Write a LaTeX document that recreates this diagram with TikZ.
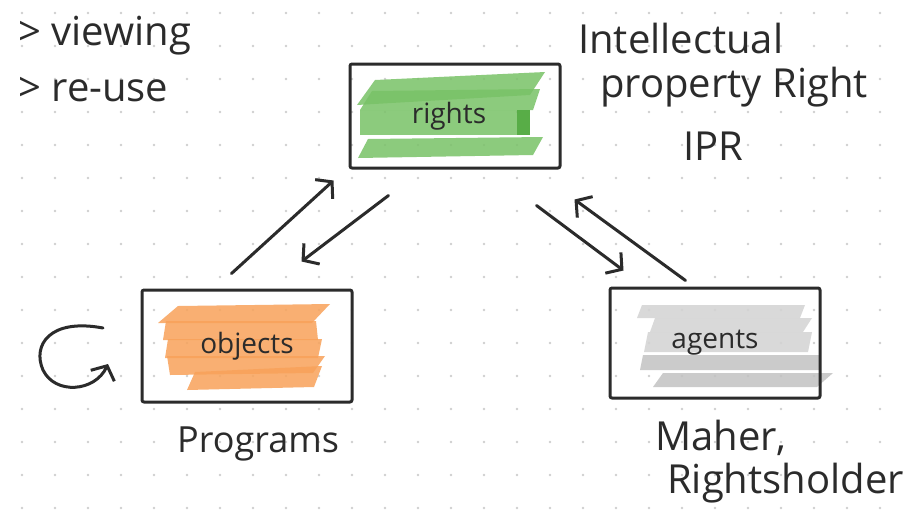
\documentclass[tikz,border=0pt]{standalone}
\usepackage{fontspec}
\setmainfont{Open Sans}
\usetikzlibrary{arrows.meta}
\definecolor{inkc}{HTML}{2B2B2B}
\definecolor{dotc}{HTML}{CFCFCF}
\definecolor{grn}{HTML}{79C267}
\definecolor{grnd}{HTML}{4FA83E}
\definecolor{org}{HTML}{F8A25A}
\definecolor{gry}{HTML}{D3D3D3}
\definecolor{gryd}{HTML}{C2C2C2}
\begin{document}
\begin{tikzpicture}[x=1pt,y=-1pt,
  ink/.style={draw=inkc, line width=3pt, line cap=round, line join=round},
  box/.style={ink, rounded corners=2pt, minimum width=210pt, minimum height=104pt,
    inner sep=0pt, text=inkc, font=\fontsize{28}{30}\selectfont},
  arr/.style={ink, -{Straight Barb[length=11pt,width=26pt,line width=3pt]}},
  hand/.style={inner sep=0pt, anchor=base west, text=inkc, font=\fontsize{40}{44}\selectfont},
  band/.style={fill opacity=0.85, draw=none}]
\useasboundingbox (0,0) rectangle (912,509);
\fill[white] (0,0) rectangle (912,509);
% dot grid
\foreach \gx in {22,55,...,912} {
  \foreach \gy in {13,46,...,509} {
    \fill[dotc] (\gx,\gy) circle (1.3pt);
  }
}
% green bands (rights)
\fill[grn,band] (357,105) -- (375,80) -- (545,72) -- (530,95) -- cycle;
\fill[grn,band] (360,110) -- (372,91) -- (540,89) -- (533,110) -- cycle;
\fill[grn,band] (360,110) rectangle (530,135);
\fill[grnd,band] (517,110) rectangle (530,135);
\fill[grn,band] (358,158) -- (368,139) -- (543,137) -- (533,155) -- cycle;
% orange bands (objects)
\fill[org,band] (158,323) -- (178,306) -- (330,304) -- (312,323) -- cycle;
\fill[org,band] (163,340) -- (166,321) -- (316,321) -- (318,340) -- cycle;
\fill[org,band] (165,358) -- (168,339) -- (322,339) -- (318,358) -- cycle;
\fill[org,band] (170,375) -- (167,356) -- (325,356) -- (313,373) -- cycle;
\fill[org,band] (187,390) -- (195,372) -- (322,366) -- (314,387) -- cycle;
% gray bands (agents)
\fill[gry,band] (637,318) -- (642,305) -- (805,305) -- (800,318) -- cycle;
\fill[gry,band] (650,332) -- (655,318) -- (812,318) -- (803,332) -- cycle;
\fill[gry,band] (644,352) -- (648,332) -- (812,332) -- (808,352) -- cycle;
\fill[gryd,band] (640,370) -- (643,355) -- (820,355) -- (820,370) -- cycle;
\fill[gryd,band] (653,387) -- (663,373) -- (833,373) -- (817,387) -- cycle;
% boxes
\node[box] (rights) at (455,116) {\raisebox{6pt}{rights}\hspace*{12pt}};
\node[box, minimum height=112pt] (objects) at (247,346) {objects};
\node[box, minimum height=110pt] (agents) at (715,343) {agents};
% arrows
\draw[arr] ([shift={(91,-15)}]objects.north west) -- ([shift={(-15,11)}]rights.south west);
\draw[arr] ([shift={(40,26)}]rights.south west) -- ([shift={(161,-27)}]objects.north west);
\draw[arr] ([shift={(-25,36)}]rights.south east) -- ([shift={(15,-16)}]agents.north west);
\draw[arr] ([shift={(77,-6)}]agents.north west) -- ([shift={(13,30)}]rights.south east);
% loop arrow
\coordinate (loopstart) at (103,328);
\coordinate (loopend) at (108,364);
\draw[arr] (loopstart) .. controls (50,318) and (32,345) .. (43,370)
  .. controls (55,395) and (95,392) .. (loopend);
% hand labels
\node[hand] (viewing) at (18,45) {> viewing};
\node[hand] (reuse) at (18,101) {> re-use};
\node[hand] (intel) at (578,53) {Intellectual};
\node[hand] (prop) at (600,97) {property Right};
\node[hand] (ipr) at (683,160) {IPR};
\node[hand, font=\fontsize{36}{40}\selectfont] (programs) at (177,452) {Programs};
\node[hand] (maher) at (655,450) {Maher,};
\node[hand] (holder) at (667,493) {Rightsholder};
\end{tikzpicture}
\end{document}
